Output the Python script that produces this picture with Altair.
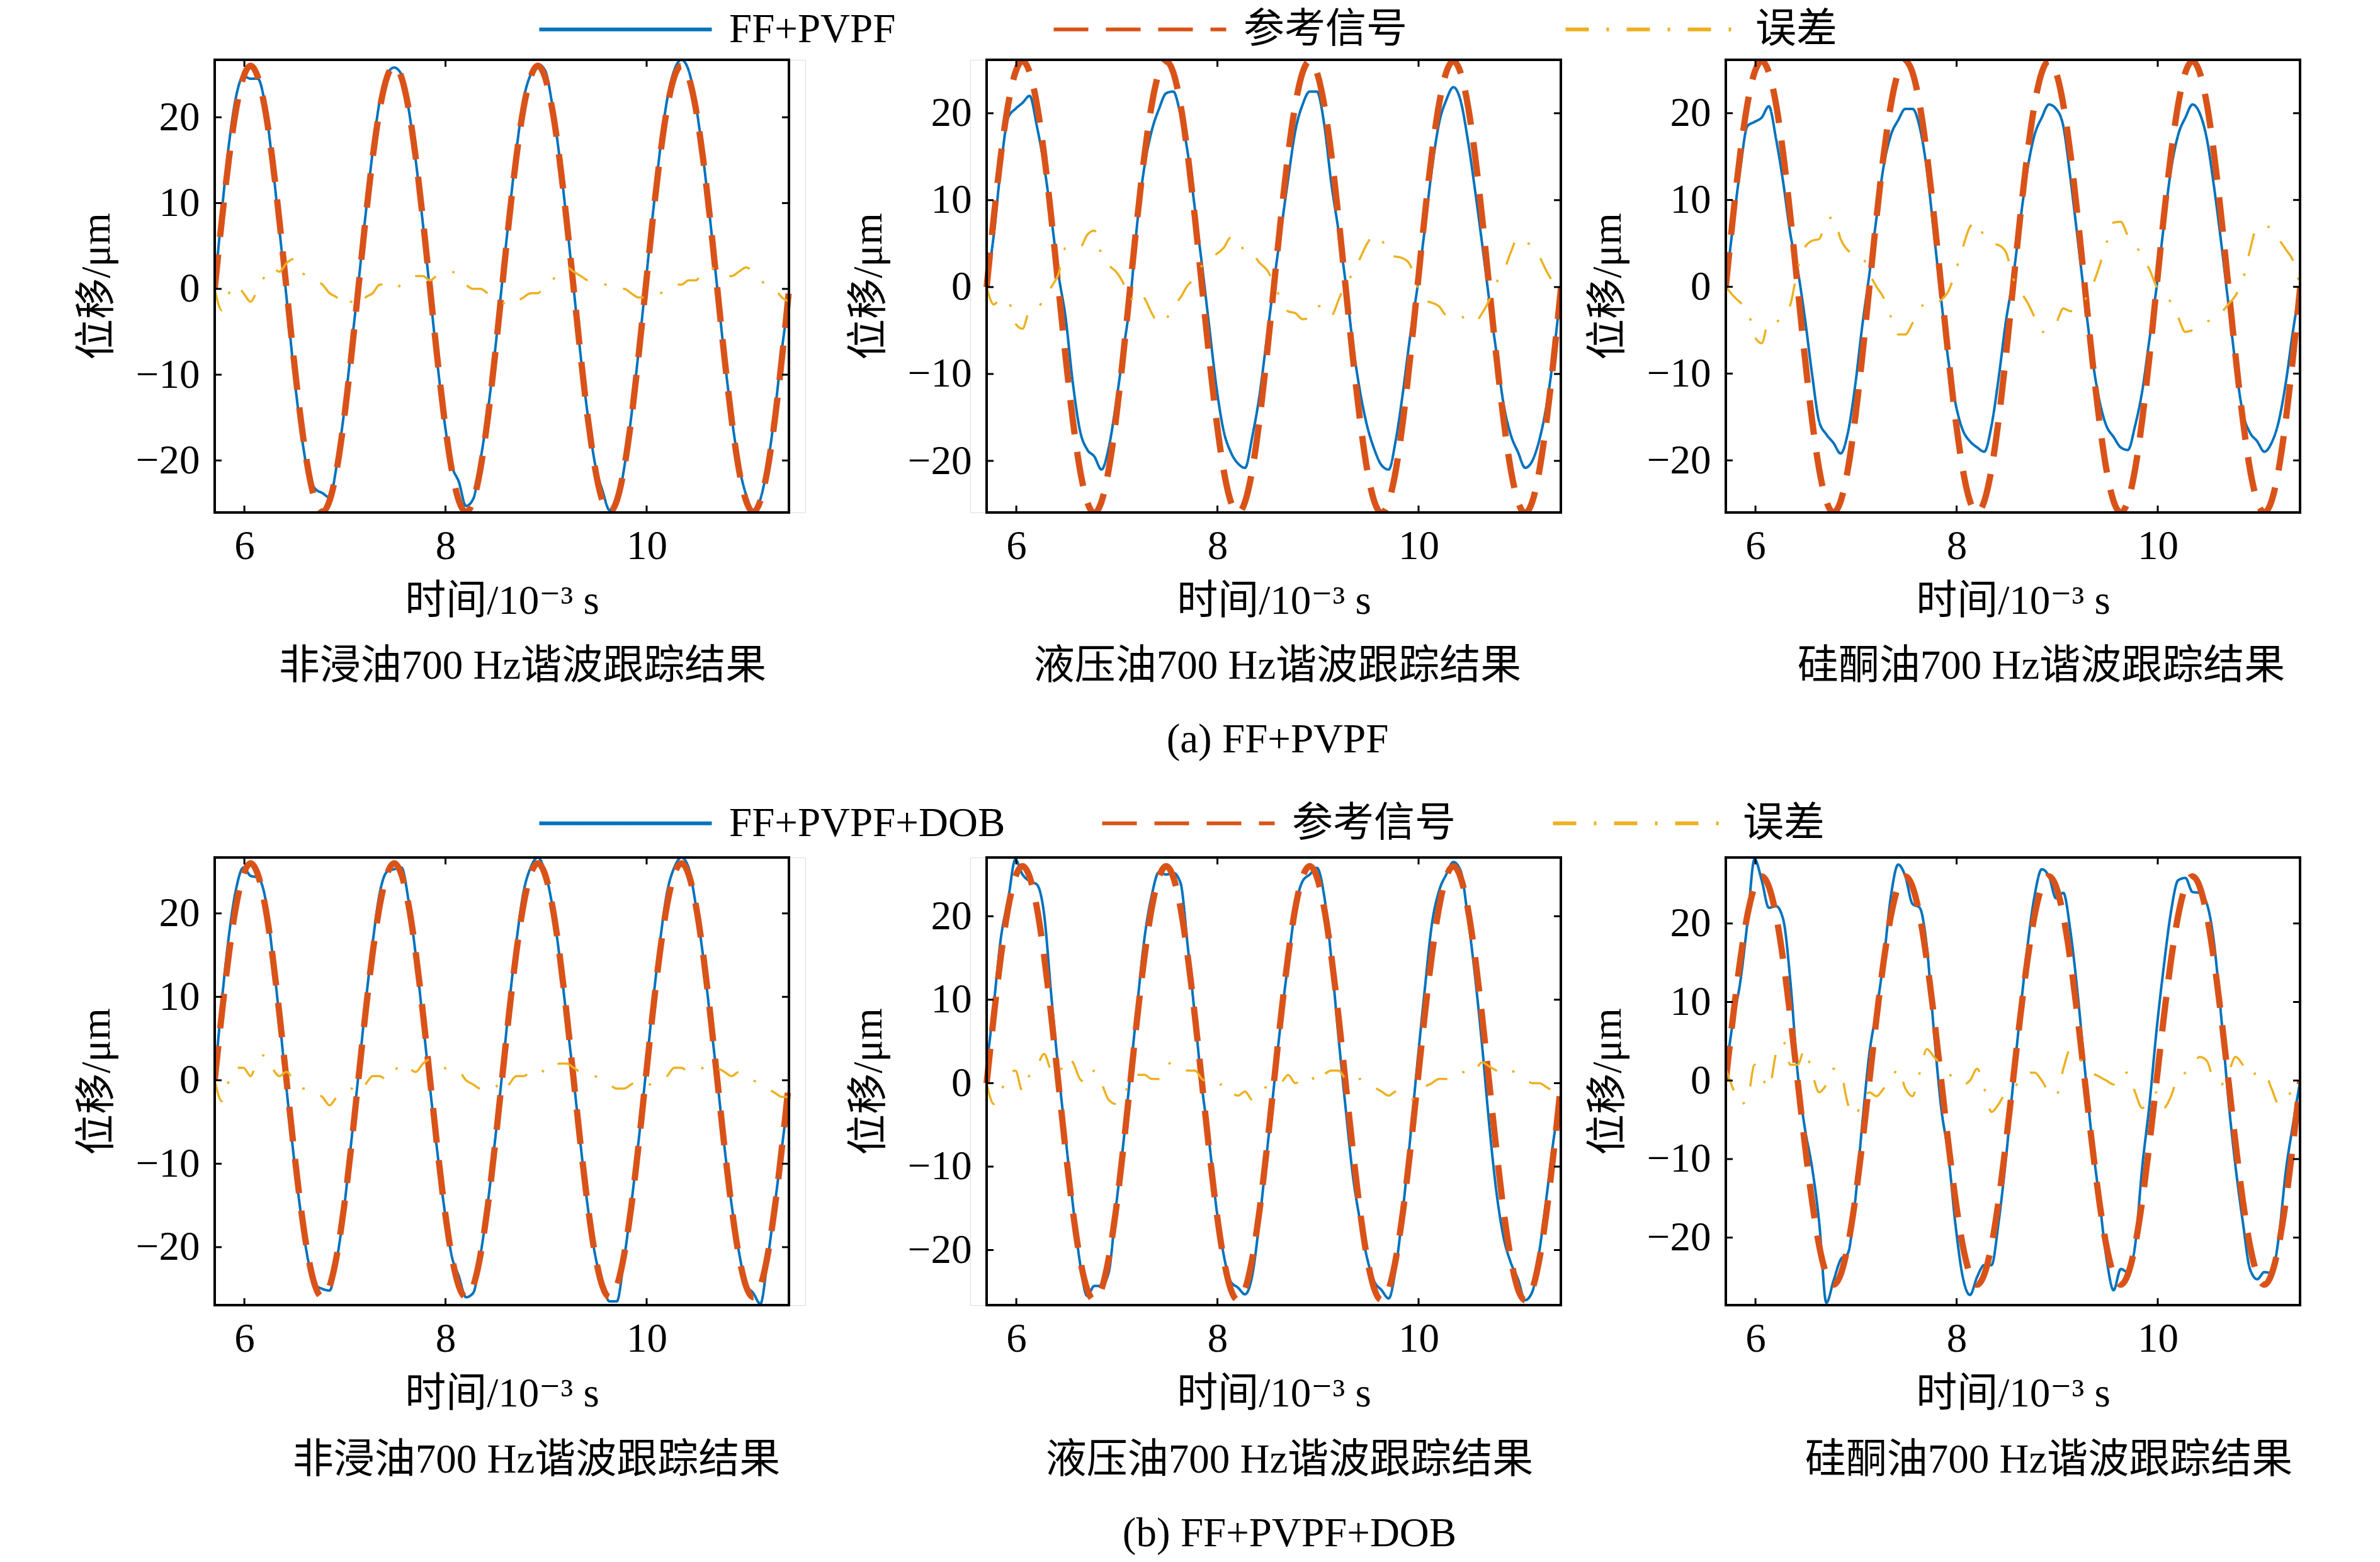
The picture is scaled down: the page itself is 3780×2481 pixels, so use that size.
import altair as alt
import pandas as pd

# ---------------- data ----------------
T = [5.705, 5.776, 5.848, 5.919, 5.991, 6.062, 6.133, 6.205, 6.276, 6.348,
     6.419, 6.490, 6.562, 6.633, 6.705, 6.776, 6.847, 6.919, 6.990, 7.062,
     7.133, 7.204, 7.276, 7.347, 7.419, 7.490, 7.561, 7.633, 7.704, 7.776,
     7.847, 7.918, 7.990, 8.061, 8.133, 8.204, 8.275, 8.347, 8.418, 8.490,
     8.561, 8.632, 8.704, 8.775, 8.847, 8.918, 8.989, 9.061, 9.132, 9.204,
     9.275, 9.346, 9.418, 9.489, 9.561, 9.632, 9.703, 9.775, 9.846, 9.918,
     9.989, 10.060, 10.132, 10.203, 10.275, 10.346, 10.417, 10.489, 10.560, 10.632,
     10.703, 10.774, 10.846, 10.917, 10.989, 11.060, 11.131, 11.203, 11.274, 11.346,
     11.417]

REF = [0, 8.0, 15.3, 21.0, 24.7, 26.0, 24.7, 21.0, 15.3, 8.0,
       0, -8.0, -15.3, -21.0, -24.7, -26.0, -24.7, -21.0, -15.3, -8.0,
       0, 8.0, 15.3, 21.0, 24.7, 26.0, 24.7, 21.0, 15.3, 8.0,
       0, -8.0, -15.3, -21.0, -24.7, -26.0, -24.7, -21.0, -15.3, -8.0,
       0, 8.0, 15.3, 21.0, 24.7, 26.0, 24.7, 21.0, 15.3, 8.0,
       0, -8.0, -15.3, -21.0, -24.7, -26.0, -24.7, -21.0, -15.3, -8.0,
       0, 8.0, 15.3, 21.0, 24.7, 26.0, 24.7, 21.0, 15.3, 8.0,
       0, -8.0, -15.3, -21.0, -24.7, -26.0, -24.7, -21.0, -15.3, -8.0,
       0]

# (a) FF+PVPF
A1_OUT = [0, 9, 17, 22.5, 24.8, 24.5, 24.5, 21.5, 15, 7,
          -1, -9.5, -16.5, -21.5, -23.3, -23.8, -24.3, -20.5, -14.5, -7,
          0.5, 8.5, 16, 22, 25, 25.8, 25, 21, 15, 7.5,
          -0.5, -8.5, -15.5, -20.5, -22.5, -25.3, -24.5, -20, -14.5, -7.5,
          0.5, 8.5, 16, 22, 25, 26.2, 25.5, 21.5, 15.5, 8,
          0, -8, -15, -20.5, -23.5, -25.8, -25, -21, -15, -7.5,
          0.5, 8.5, 16, 22, 25.5, 26.7, 25.5, 21.5, 15.5, 8,
          0, -8, -15, -20.5, -24, -25.8, -24.5, -20.5, -14.5, -7,
          -1]
A1_ERR = [0, -2.5, -0.5, 0.5, -0.5, -1.5, 0, 1.5, 2.5, 2,
          3, 3.5, 2, 1.5, 1, 0.5, -0.5, -1, -2, -1.5,
          -2, -1, -0.5, 0.5, 0.5, 0, 0.5, 1, 1.5, 1.5,
          1, 1.5, 1.5, 2, 1.5, 0.5, 0, 0, -0.5, -1,
          -1.5, -2, -1.5, -1, -0.5, -0.5, 0.5, 1, 2, 2.5,
          2, 1.5, 1, 1, 0.5, 0.5, 0, 0, -0.5, -1,
          -1, -0.5, -0.5, 0, 0.5, 0.5, 1, 1, 2, 2.5,
          2, 1.5, 1.5, 2, 2.5, 2, 1, 0.5, 0, -1,
          -1.5]
A2_OUT = [0, 6, 14, 19.5, 20.5, 21.2, 22, 18.5, 14, 8,
          1.5, -3.5, -11, -16.5, -18.7, -19.5, -21, -18.5, -13.5, -7.5,
          -1.5, 7.5, 14, 18, 20.5, 22.3, 22.5, 19.8, 15.5, 9,
          2.5, -4.5, -11.5, -16.5, -19, -20.3, -20.8, -17.2, -12.5, -6,
          0.5, 6.5, 12.5, 18, 21, 22.5, 22.5, 18.8, 12, 6.5,
          0.5, -6.5, -12, -16, -18.7, -20.5, -21, -17.5, -12, -5.5,
          0, 6.5, 13.5, 18.8, 21.5, 23, 21.5, 17, 11.3, 5,
          -1.5, -7.5, -13.5, -17, -19, -20.8, -20, -17.5, -13.5, -7.5,
          0]
A2_ERR = [0, -2, -1.3, -1.5, -4.2, -4.8, -2.7, -2.5, -1.3, 0,
          1.5, 4.5, 4.3, 4.5, 6, 6.5, 3.7, 2.5, 1.8, 0.5,
          -1.5, -0.5, -1.3, -3, -4.2, -3.7, -2.2, -1.2, 0.2, 1,
          2.5, 3.5, 3.8, 4.5, 5.7, 5.7, 3.9, 3.8, 2.8, 2,
          0.5, -1.5, -2.8, -3, -3.7, -3.5, -2.2, -2.2, -3.3, -1.5,
          0.5, 1.5, 3.3, 5, 6, 5.5, 3.7, 3.5, 3.3, 2.5,
          0, -1.5, -1.8, -2.2, -3.2, -3, -3.2, -4, -4, -3,
          -1.5, 0.5, 1.8, 4, 5.7, 5.2, 4.7, 3.5, 1.8, 0.5,
          0]
A3_OUT = [0, 7, 13.5, 18.5, 19, 19.5, 20.8, 17, 12, 6,
          2, -3.5, -10, -15.5, -17, -18, -19.2, -16.8, -11.5, -4.5,
          1.5, 8, 14, 17.5, 19.2, 20.5, 20.5, 18.4, 13.5, 6,
          -1.5, -8.5, -13.5, -16.5, -17.8, -18.5, -19, -16, -10.5, -4,
          1, 7.5, 13.5, 17.5, 19.5, 21, 20.5, 18.5, 12.5, 5.5,
          -1.5, -8, -13, -16, -17.3, -18.5, -18.8, -16, -12, -6,
          0, 7, 13.5, 17.5, 19.5, 21, 20, 17, 11.5, 5,
          -2, -9, -14.5, -16.8, -17.8, -19, -18, -15.5, -11, -5,
          0]
A3_ERR = [0, -1, -1.8, -2.5, -5.7, -6.5, -3.9, -4, -3.3, -2,
          2, 4.5, 5.3, 5.5, 7.7, 8, 5.5, 4.2, 3.8, 3.5,
          1.5, 0, -1.3, -3.5, -5.5, -5.5, -4.2, -2.6, -1.8, -2,
          -1.5, -0.5, 1.8, 4.5, 6.9, 7.5, 5.7, 5, 4.8, 4,
          1, -0.5, -1.8, -3.5, -5.2, -5, -4.2, -2.5, -2.8, -2.5,
          -1.5, 0, 2.3, 5, 7.4, 7.5, 5.9, 5, 3.3, 2,
          0, -1, -1.8, -3.5, -5.2, -5, -4.7, -4, -3.8, -3,
          -2, -1, 0.8, 4.2, 6.9, 7, 6.7, 5.5, 4.3, 3,
          0]

# (b) FF+PVPF+DOB
B1_OUT = [0, 9.5, 17.5, 23, 25.5, 24.5, 24.3, 22, 15.5, 7.5,
          -1, -9, -16, -21.5, -24.5, -25, -25.2, -21.5, -15.5, -7.5,
          0.5, 9, 16.5, 22.5, 25, 25.3, 25.5, 21.5, 15, 7,
          -1, -8.5, -15.5, -21, -23.5, -26, -25.5, -21, -15, -7.5,
          0.5, 9, 16.5, 22.5, 25.5, 26.7, 25, 21, 15, 7.5,
          0, -8, -15.5, -21, -24.5, -26.5, -26.5, -21.5, -15, -7.5,
          0.5, 9, 16.5, 22.5, 25.5, 26.7, 25.5, 21, 15, 7.5,
          0, -8, -15, -20.5, -24.5, -25.5, -26.8, -21.5, -15, -8,
          -1]
B1_ERR = [0, -2.5, 0, 1.5, 1.5, 0.5, 2.5, 3, 1.5, 0.5,
          1, 0, -1, -1, -1.5, -2, -3, -2, -1.5, -1,
          -1.5, -0.5, 0.5, 0.5, 0, 1, 2, 1.5, 1, 2,
          2.5, 2, 1.5, 1, 1, 0, -0.5, -1, -1, -0.5,
          -1.5, -0.5, 0.5, 0.5, 1, 1.5, 1, 1, 2, 2,
          1.5, 1, 1, 0.5, 0, -0.5, -1, -1, -0.5, 0,
          -0.5, -0.5, 0, 0.5, 1.5, 1.5, 1, 1, 1.5, 2,
          1.5, 1, 0.5, 1, 0.5, 0, -0.5, -1, -1.5, -2,
          -2]
B2_OUT = [2, 9.4, 17.5, 22, 26.8, 25, 24.2, 23.8, 20.3, 10.5,
          1.5, -6.5, -14.5, -21.5, -25.5, -24.3, -24.3, -22.7, -15, -7.5,
          1, 9.5, 17.5, 22.5, 25.3, 25, 25.2, 24, 16.5, 8,
          -0.5, -7, -15, -20.5, -23.8, -24.5, -25.3, -23, -16.5, -8.5,
          -0.5, 7.5, 14.5, 21, 24.2, 25, 25.8, 22.5, 15, 5.5,
          -3, -11, -16.5, -21, -23.8, -24.8, -25.8, -22, -15, -6.5,
          2.5, 11, 19, 23, 25, 26.5, 25.5, 20, 13, 4.5,
          -5, -13, -18.5, -21.5, -23.5, -26, -25, -20, -13.5, -6.5,
          -1.5]
B2_ERR = [0, -2.5, -1, 1, 1.5, -1, 1, 2, 3.5, 1.5,
          1, 3, 2.5, 0.5, 0, 1.5, 0, -2, -2.5, -1,
          -0.5, 1, 1, 0.5, 0.5, 2, 2.5, 2, 1.5, 1.5,
          0.5, 0, -0.5, 0, -1, -1.5, -1, -2, -1, -0.5,
          -0.5, 0, 1, 0, 0.5, 1, 0, 1, 1.5, 1.5,
          0.5, 0, 0.5, 0, -0.5, -1, -1.5, -1, -1.5, -2,
          -1.5, -0.5, 0, 0.5, 0.5, 1, 1.5, 1, 1.5, 2.5,
          2, 1.5, 1, 1.5, 1, 0.5, 0, 0, -0.5, -1,
          -1.5]
B3_OUT = [1, 7.5, 12.5, 20, 28.2, 25.5, 22, 22.2, 20.5, 12.5,
          1, -6, -11, -18, -28.3, -25.5, -22.8, -22, -15.5, -5.5,
          3.5, 9, 15.5, 23.5, 27.5, 26, 22.5, 22, 17, 6,
          -3.5, -9.5, -18.5, -25, -27.3, -25, -23.5, -23.5, -18, -10,
          -0.5, 8.5, 17, 23.5, 26.9, 26, 23.2, 23.9, 19, 11,
          1.5, -7.5, -15, -22.5, -26.7, -24, -24.4, -21, -11, -3,
          6.5, 14.5, 21.5, 25.5, 25.8, 24, 23.9, 22.5, 17.5, 8,
          -2.5, -11, -18, -24, -25.3, -24.4, -24.5, -20, -11.5, -5.5,
          0]
B3_ERR = [1.5, -1, -3, -2.5, 2, 0.5, -1, 3.5, 5, 2,
          2, 4, 1, -1.5, -0.5, 1.5, 1, -3, -4.5, -2.5,
          -1.5, -2, -1, 0, 1.5, -1, -2, 1, 4, 3,
          2, 1, 0, -0.5, 0, 1.5, -1, -4, -3, -1.5,
          -1, 0, 1, 1, 0, -1.5, -2, 1.5, 4, 3,
          2, 1, 0.5, 0, -0.5, 1, 1, -1.5, -3.5, -2.5,
          -1.5, -3.5, -2, 0.5, 1, 2, 3, 2.5, 0, -0.5,
          1, 3, 2, 0.5, 1, 1, -1, -3, -2.5, -1,
          -0.5]

Y_DOMAINS = {
    "A1": [-26.06, 26.7], "A2": [-25.94, 26.15], "A3": [-26.0, 26.15],
    "B1": [-26.95, 26.7], "B2": [-26.6, 27.04], "B3": [-28.6, 28.4],
}
X_DOMAIN = [5.705, 11.415]
X_TICKS = [6, 8, 10]
Y_TICKS = [-20, -10, 0, 10, 20]

NAMES_A = ["FF+PVPF", "参考信号", "误差"]
NAMES_B = ["FF+PVPF+DOB", "参考信号", "误差"]
SUBTITLES = ["非浸油700 Hz谐波跟踪结果", "液压油700 Hz谐波跟踪结果", "硅酮油700 Hz谐波跟踪结果"]
CAPTION_A = "(a) FF+PVPF"
CAPTION_B = "(b) FF+PVPF+DOB"
X_TITLE = "时间/10⁻³ s"
Y_TITLE = "位移/μm"

# ---------------- styling ----------------
FONT = "Liberation Serif, DejaVu Serif, Noto Sans CJK SC"
FS = 65
COLORS = ["#0072BD", "#D95319", "#EDB120"]
DASHES = [[1, 0], [55, 28], [37, 28, 4, 28]]
WIDTHS = [4, 10, 3.5]
W = 912           # plot-box width
CELL = 938        # grid cell width (columns 1-2 carry a 26 px slack to get the uneven gaps)
H_TOP, H_BOT = 719, 711
TL = 11  # inward tick length
LEG_SYMBOL = "M-4,0H4"   # long horizontal stroke (4x the nominal symbol width)
LEG_SIZE = 4692          # sqrt(size) = 68.5 -> drawn line 274 px long


def panel(out, err, ydom, names, title_lines, title_dx, H, title_offset,
          x0=0, vw=W, legend_xy=None, legend_pad=238):
    xs = alt.Scale(domain=X_DOMAIN, nice=False, zero=False, range=[x0, x0 + W])
    ys = alt.Scale(domain=ydom, nice=False, zero=False)
    xax = alt.Axis(values=X_TICKS, format="d", ticks=False, domain=False, grid=False,
                   labelFont=FONT, labelFontSize=FS, labelColor="black", labelPadding=22,
                   labelAngle=0, labelFlush=False, labelOverlap=False,
                   title=X_TITLE, titleFont=FONT, titleFontSize=FS, titleFontWeight="normal",
                   titleColor="black", titleX=x0 + W / 2, titleY=140, titleAlign="center",
                   titleBaseline="middle")
    yax = alt.Axis(values=Y_TICKS, format="d", ticks=False, domain=False, grid=False,
                   labelFont=FONT, labelFontSize=FS, labelColor="black", labelPadding=24,
                   labelFlush=False, labelOverlap=False, offset=-x0,
                   title=Y_TITLE, titleFont=FONT, titleFontSize=FS, titleFontWeight="normal",
                   titleColor="black", titleX=-188, titleY=H / 2, titleAngle=270,
                   titleAlign="center", titleBaseline="middle")
    X = alt.X("t:Q", scale=xs, axis=xax)
    Y = alt.Y("v:Q", scale=ys, axis=yax)
    if legend_xy is not None:
        leg = alt.Legend(orient="none", legendX=legend_xy[0], legendY=legend_xy[1],
                         direction="horizontal", title=None, symbolType=LEG_SYMBOL,
                         symbolSize=LEG_SIZE, symbolStrokeWidth=6, labelFont=FONT,
                         labelFontSize=FS, labelColor="black", labelOffset=127,
                         columnPadding=legend_pad, padding=0, labelLimit=2000)
    else:
        leg = None
    cs = alt.Scale(domain=names, range=COLORS)
    ds = alt.Scale(domain=names, range=DASHES)

    layers = []
    for vals, name, wdt in zip([out, REF, err], names, WIDTHS):
        df = pd.DataFrame({"t": T, "v": vals, "s": name})
        layers.append(
            alt.Chart(df).mark_line(clip=True, strokeWidth=wdt, interpolate="monotone",
                                    strokeCap="butt")
            .encode(x=X, y=Y,
                    color=alt.Color("s:N", scale=cs, legend=leg),
                    strokeDash=alt.StrokeDash("s:N", scale=ds, legend=leg))
        )
    xt = pd.DataFrame({"t": X_TICKS})
    yt = pd.DataFrame({"v": Y_TICKS})
    rule = dict(color="black", strokeWidth=3)
    layers.append(alt.Chart(xt).mark_rule(**rule).encode(x=X, y=alt.value(0), y2=alt.value(TL)))
    layers.append(alt.Chart(xt).mark_rule(**rule).encode(x=X, y=alt.value(H), y2=alt.value(H - TL)))
    layers.append(alt.Chart(yt).mark_rule(**rule).encode(y=Y, x=alt.value(x0), x2=alt.value(x0 + TL)))
    layers.append(alt.Chart(yt).mark_rule(**rule).encode(y=Y, x=alt.value(x0 + W),
                                                         x2=alt.value(x0 + W - TL)))
    # axes box
    layers.append(
        alt.Chart(pd.DataFrame({"box": [0]})).mark_rect(filled=False, stroke="black", strokeWidth=4)
        .encode(x=alt.value(x0), x2=alt.value(x0 + W), y=alt.value(0), y2=alt.value(H))
    )

    return alt.layer(*layers).properties(
        width=vw, height=H,
        title=alt.TitleParams(text=title_lines, orient="bottom", anchor="middle", font=FONT,
                              fontSize=FS, fontWeight="normal", color="black", offset=title_offset,
                              dx=title_dx, lineHeight=117),
    )


panels = [
    panel(A1_OUT, A1_ERR, Y_DOMAINS["A1"], NAMES_A, [SUBTITLES[0]], 20, H_TOP, 40,
          x0=0, vw=CELL, legend_xy=(615, -86), legend_pad=238),
    panel(A2_OUT, A2_ERR, Y_DOMAINS["A2"], NAMES_A, [SUBTITLES[1], CAPTION_A], 19, H_TOP, 40,
          x0=26, vw=CELL),
    panel(A3_OUT, A3_ERR, Y_DOMAINS["A3"], NAMES_A, [SUBTITLES[2]], 45, H_TOP, 40),
    panel(B1_OUT, B1_ERR, Y_DOMAINS["B1"], NAMES_B, [SUBTITLES[0]], 42, H_BOT, 42,
          x0=0, vw=CELL, legend_xy=(615, -92), legend_pad=141),
    panel(B2_OUT, B2_ERR, Y_DOMAINS["B2"], NAMES_B, [SUBTITLES[1], CAPTION_B], 38, H_BOT, 42,
          x0=26, vw=CELL),
    panel(B3_OUT, B3_ERR, Y_DOMAINS["B3"], NAMES_B, [SUBTITLES[2]], 57, H_BOT, 42),
]

chart = alt.concat(*panels, columns=3, spacing={"row": 548, "column": 262}, bounds="flush").resolve_scale(
    x="independent", y="independent", color="independent", strokeDash="independent"
).properties(
    padding={"left": 112, "top": 0, "right": 10, "bottom": 0}
).configure_view(
    strokeWidth=0
).configure(background="white")

chart.save("out.html", embed_options={"renderer": "svg", "actions": False})
